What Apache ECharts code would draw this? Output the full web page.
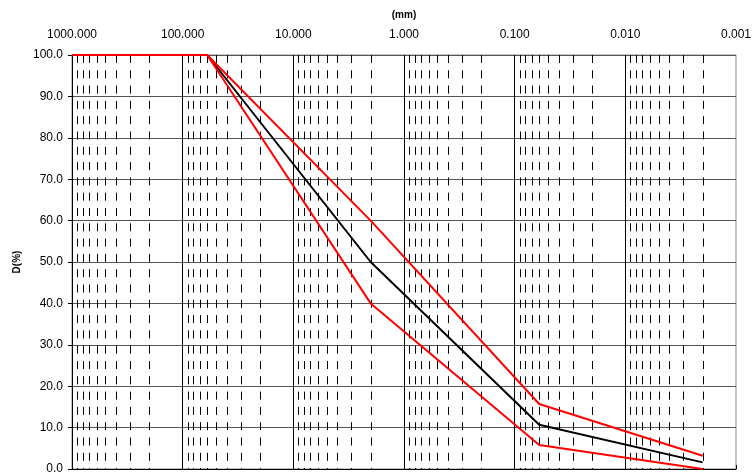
<!DOCTYPE html>
<html><head><meta charset="utf-8">
<script src="https://cdn.jsdelivr.net/npm/echarts@6/dist/echarts.min.js"></script>
<style>html,body{margin:0;padding:0;background:#fff}#c{width:754px;height:475px}</style>
</head><body><div id="c"></div>
<script>
// Data
const sizesMid = [1000, 60, 2, 0.06, 0.002];
const passMid = [100, 100, 50, 10.7, 1.6];
const sizesUpper = [1000, 60, 2, 0.06, 0.002];
const passUpper = [100, 100, 60, 15.7, 3.2];
const sizesLower = [1000, 60, 2, 0.06, 0.002];
const passLower = [100, 100, 40, 5.8, 0.0];
const decades = [0.001, 0.01, 0.1, 1, 10, 100];
const minorMultipliers = [2, 3, 4, 5, 6, 7, 8, 9];

const pair = (xs, ys) => xs.map((x, i) => [x, ys[i]]);
const minorValues = [];
decades.forEach(d => minorMultipliers.forEach(m => minorValues.push([+(d * m).toPrecision(6), 0])));

const font = 'Liberation Sans, Arial, sans-serif';
const chart = echarts.init(document.getElementById('c'), null, { renderer: 'canvas' });
chart.setOption({
  animation: false,
  grid: { left: 72, right: 16, top: 55, bottom: 5, show: true, borderColor: '#888', borderWidth: 1 },
  xAxis: {
    type: 'log', logBase: 10, min: 0.001, max: 1000, inverse: true, position: 'top',
    name: '(mm)', nameLocation: 'middle', nameGap: 35,
    nameTextStyle: { fontFamily: font, fontSize: 10, fontWeight: 'bold', color: '#000' },
    axisLine: { show: true, lineStyle: { color: '#000', width: 1 } },
    axisTick: { show: true, length: 4, lineStyle: { color: '#000' } },
    axisLabel: { fontFamily: font, fontSize: 12, color: '#000', margin: 14,
      formatter: v => Number(v).toFixed(3) },
    splitLine: { show: true, showMinLine: false, lineStyle: { color: '#000', width: 1 } }
  },
  yAxis: {
    type: 'value', min: 0, max: 100, interval: 10,
    name: 'D(%)', nameLocation: 'middle', nameGap: 45, nameRotate: 90,
    nameTextStyle: { fontFamily: font, fontSize: 10, fontWeight: 'bold', color: '#000' },
    axisLine: { show: true, lineStyle: { color: '#000', width: 1 } },
    axisTick: { show: true, length: 4, lineStyle: { color: '#000' } },
    axisLabel: { fontFamily: font, fontSize: 12, color: '#000', margin: 9,
      formatter: v => Number(v).toFixed(1) },
    splitLine: { show: true, lineStyle: { color: '#555', width: 1 } }
  },
  series: [
    {
      type: 'custom', name: 'minor', silent: true, z: 1,
      data: minorValues, encode: { x: 0, y: 1 },
      renderItem: (params, api) => {
        const x = api.value(0);
        const p1 = api.coord([x, 100]);
        const p2 = api.coord([x, 0]);
        const px = Math.round(p1[0]) + 0.5;
        return {
          type: 'line', silent: true,
          shape: { x1: px, y1: p1[1], x2: px, y2: p2[1] },
          style: { stroke: '#000', lineWidth: 1, lineDash: [8, 7.3] }
        };
      }
    },
    { type: 'line', name: 'mid', data: pair(sizesMid, passMid), showSymbol: false, z: 3,
      lineStyle: { color: '#000', width: 2 }, itemStyle: { color: '#000' } },
    { type: 'line', name: 'upper', data: pair(sizesUpper, passUpper), showSymbol: false, z: 4,
      lineStyle: { color: '#ff0000', width: 2 }, itemStyle: { color: '#ff0000' } },
    { type: 'line', name: 'lower', data: pair(sizesLower, passLower), showSymbol: false, z: 4,
      lineStyle: { color: '#ff0000', width: 2 }, itemStyle: { color: '#ff0000' } }
  ]
});
</script></body></html>
